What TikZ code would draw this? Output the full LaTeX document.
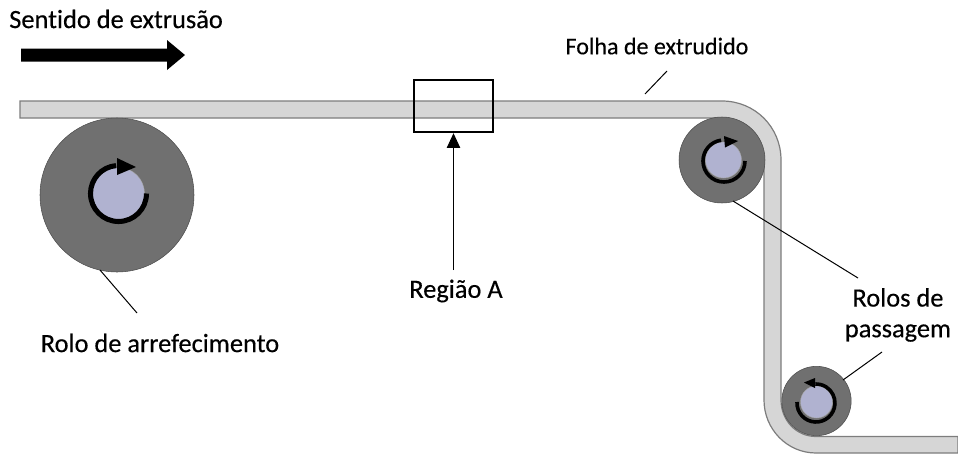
\documentclass[tikz,border=0pt]{standalone}
\usepackage{fontspec}
\setmainfont[Ligatures=NoCommon,FakeBold=0.35]{Carlito}
\usetikzlibrary{arrows.meta,calc}
\definecolor{sheet}{RGB}{214,214,214}
\definecolor{sheetedge}{RGB}{125,125,125}
\definecolor{roll}{RGB}{112,112,112}
\definecolor{hub}{RGB}{176,178,208}
\tikzset{
  lbl/.style={font=\fontsize{19.8}{23}\selectfont,text=black,inner sep=0pt,align=center},
  leader/.style={draw=black,line width=0.75pt},
  spin/.style={draw=black,line width=3.8pt},
  spinsmall/.style={draw=black,line width=2.7pt},
  rollc/.style={circle,draw=black!70,line width=0.4pt,fill=roll,inner sep=0pt},
  hubc/.style={circle,fill=hub,draw=black!35,line width=0.3pt,inner sep=0pt}
}
\begin{document}
\begin{tikzpicture}[x=0.75pt,y=-0.75pt]
\useasboundingbox (0,0) rectangle (958,454);
% sheet
\path[fill=sheet,draw=sheetedge,line width=0.9pt]
  (20,101) -- (722,101) .. controls (755,101) and (781,127) .. (781,160) -- (781,400)
  .. controls (781,420) and (796,436.5) .. (816,436.5) -- (958,436.5) -- (958,453) -- (816,453)
  .. controls (787,453) and (764,429) .. (764,400) -- (764,160)
  .. controls (764,137) and (745,118) .. (722,118) -- (20,118) -- cycle;
% rollers
\node[rollc,minimum size=115.5pt] (r1) at (117,195) {};
\node[hubc,minimum size=39pt] (h1) at (118.5,193.5) {};
\node[rollc,minimum size=64.5pt] (r2) at (722,160) {};
\node[hubc,minimum size=27pt] (h2) at (723.5,160) {};
\node[rollc,minimum size=52pt] (r3) at (816.5,401) {};
\node[hubc,minimum size=24pt] (h3) at (816.5,402) {};
% rotation arrows
\draw[spin] (146.5,193.5) arc[start angle=0,end angle=-265,radius=28*0.75pt];
\fill[black] (117,158) -- (136,167) -- (117,175) -- cycle;
\draw[spinsmall] (745,161) arc[start angle=0,end angle=-262,radius=21*0.75pt];
\fill[black] (724,136) -- (738,141) -- (725,147.5) -- cycle;
\draw[spinsmall] (797,402) arc[start angle=-183,end angle=92,radius=19*0.75pt];
\fill[black] (815,378) -- (804,382.5) -- (815,388) -- cycle;
% labels
\node[lbl,anchor=west] (t1) at (9,19) {Sentido de extrusão};
\node[lbl,font=\fontsize{18}{21}\selectfont] (t2) at (657,46) {Folha de extrudido};
\node[lbl] (t3) at (456,291) {Região A};
\node[lbl] (t4) at (160,343) {Rolo de arrefecimento};
\node[lbl] (t5) at (898,315) {Rolos de\\passagem};
% box
\node[draw=black,line width=1.3pt,minimum width=59pt,minimum height=39.5pt,inner sep=0pt] (box) at (453.5,106) {};
% big arrow
\coordinate (as) at (21,55);
\coordinate (ae) at (185,55);
\fill[black] (as) ++(0,-6.5) -- (167,48.5) -- (167,40) -- (ae) -- (167,70) -- (167,61.5) -- (21,61.5) -- cycle;
% leaders
\coordinate (c1) at (667,71);
\coordinate (c2) at (645,94);
\draw[leader] (c1) -- (c2);
\coordinate (c3) at (453.5,270);
\draw[leader,-{Triangle[length=11pt,width=10pt]}] (c3) -- (box.south);
\coordinate (c4) at (100,270);
\coordinate (c5) at (137,313);
\draw[leader] (c4) -- (c5);
\coordinate (c6) at (733,201);
\coordinate (c7) at (858,278);
\draw[leader] (c6) -- (c7);
\coordinate (c8) at (843,380);
\coordinate (c9) at (882,352);
\draw[leader] (c8) -- (c9);
\end{tikzpicture}
\end{document}
